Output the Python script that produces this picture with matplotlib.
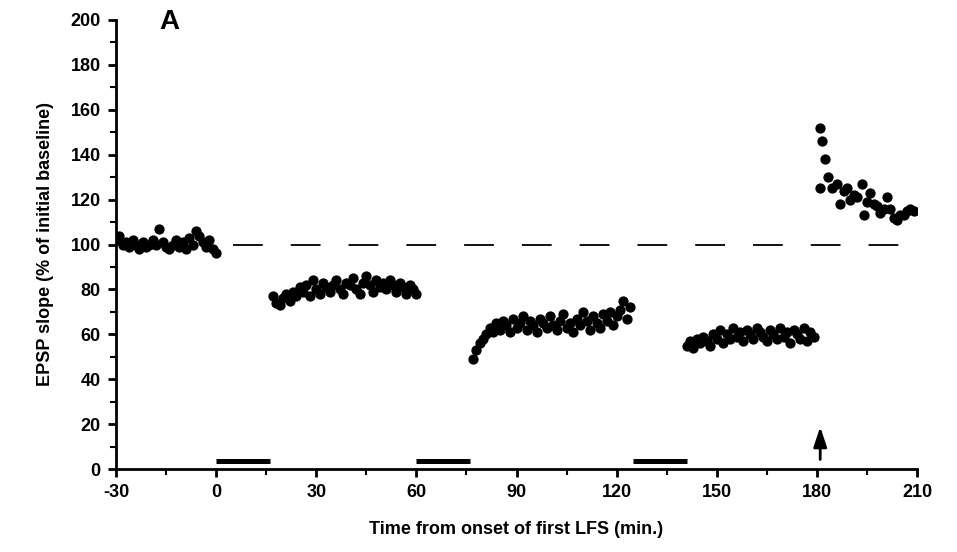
import numpy as np
import matplotlib
matplotlib.use("Agg")
import matplotlib.pyplot as plt
from matplotlib.ticker import MultipleLocator

plt.rcParams['font.family'] = ['Liberation Sans', 'DejaVu Sans']
plt.rcParams['font.weight'] = 'bold'
plt.rcParams['axes.unicode_minus'] = False

# ---- data ----
base_t = np.arange(-30, 1)
base_v = [102, 104, 100, 101, 99, 102, 100, 98, 101, 99, 100, 102, 100, 107, 101,
          99, 98, 100, 102, 99, 101, 98, 103, 100, 106, 104, 101, 99, 102, 98, 96]

seg1_t = np.arange(17, 61)
seg1_v = [77, 74, 73, 76, 78, 75, 79, 77, 81, 79, 82, 77, 84, 80, 78, 83, 81, 79,
          82, 84, 80, 78, 83, 82, 85, 80, 78, 83, 86, 82, 79, 84, 81, 83, 80, 84,
          82, 79, 83, 81, 78, 82, 80, 78]

seg2_t = np.arange(77, 125)
seg2_v = [49, 53, 56, 58, 60, 63, 61, 65, 62, 66, 64, 61, 67, 63, 65, 68, 62, 66,
          64, 61, 67, 65, 63, 68, 64, 62, 66, 69, 63, 65, 61, 67, 64, 70, 66, 62,
          68, 65, 63, 69, 66, 70, 64, 68, 71, 75, 67, 72]

seg3_t = np.arange(141, 180)
seg3_v = [55, 57, 54, 58, 56, 59, 57, 55, 60, 58, 62, 56, 60, 58, 63, 59, 61, 57,
          62, 60, 58, 63, 61, 59, 57, 62, 60, 58, 63, 59, 61, 56, 62, 60, 58, 63,
          57, 61, 59]

seg4_t = [180.8, 181, 181.6, 182.5, 183.4, 184.5, 186, 187, 188, 189, 190, 191,
          192, 193.5, 194, 195, 196, 197, 198, 199, 200, 201, 202, 203, 204, 205,
          206, 207, 208, 209]
seg4_v = [125, 152, 146, 138, 130, 125, 127, 118, 124, 125, 120, 122, 121, 127,
          113, 119, 123, 118, 117, 114, 116, 121, 116, 112, 111, 113, 113, 115,
          116, 115]

# LFS bars (start, end) and arrow position
lfs_start = [0, 60, 125]
lfs_end = [16, 76, 141]
bar_level = 3.7
arrow_x = 181
arrow_y0, arrow_y1 = 3, 20

xticks = [-30, 0, 30, 60, 90, 120, 150, 180, 210]
yticks = [0, 20, 40, 60, 80, 100, 120, 140, 160, 180, 200]

# ---- figure ----
fig = plt.figure(figsize=(9.57, 5.52), dpi=100)
ax = fig.add_axes([116/957, 1-469/552, 801/957, 449/552])

ax.axhline(100, xmin=(5+30)/240, xmax=(208+30)/240, color='black', lw=1.3,
           dashes=(16.5, 15.5))

for t, v in [(base_t, base_v), (seg1_t, seg1_v), (seg2_t, seg2_v),
             (seg3_t, seg3_v), (seg4_t, seg4_v)]:
    ax.plot(t, v, 'o', color='black', ms=7.4, mec='black', mew=0)

ax.hlines([bar_level]*len(lfs_start), lfs_start, lfs_end, color='black', lw=3.6)
ax.annotate('', xy=(arrow_x, arrow_y1), xytext=(arrow_x, arrow_y0),
            arrowprops=dict(arrowstyle='-|>,head_length=1.2,head_width=0.4',
                            color='black', lw=2))

ax.set_xlim(-30, 210)
ax.set_ylim(0, 200)
ax.set_xticks(xticks)
ax.set_yticks(yticks)
ax.xaxis.set_minor_locator(MultipleLocator(15))
ax.yaxis.set_minor_locator(MultipleLocator(10))
ax.tick_params(which='major', direction='out', length=6, width=2, labelsize=13, pad=5)
ax.tick_params(which='minor', direction='out', length=4, width=1.5)

for s in ['top', 'right']:
    ax.spines[s].set_visible(False)
for s in ['left', 'bottom']:
    ax.spines[s].set_linewidth(2)

ax.set_xlabel('Time from onset of first LFS (min.)', fontsize=13, fontweight='bold', labelpad=14)
ax.set_ylabel('EPSP slope (% of initial baseline)', fontsize=13, fontweight='bold', labelpad=12)

ax.text(0.067, 0.995, 'A', transform=ax.transAxes, ha='center', va='center',
        fontsize=20, fontweight='bold')

fig.savefig('out.png', dpi=100)
